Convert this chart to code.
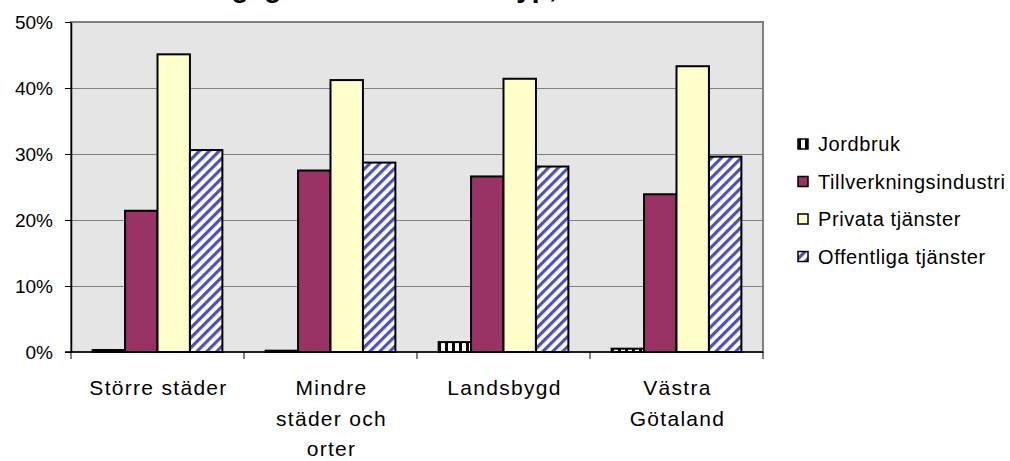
<!DOCTYPE html>
<html>
  <head>
    <meta charset="UTF-8" />
    <title>Sysselsättning efter näringsgren och kommuntyp</title>
    <script src="https://d3js.org/d3.v7.min.js"></script>
    <style>
      body {
        margin: 0;
        background: #fff;
        font-family: "Liberation Sans", Arial, sans-serif;
      }
      svg text {
        font-family: "Liberation Sans", Arial, sans-serif;
        fill: #000;
      }
    </style>
  </head>
  <body>
    <div id="chart"></div>
    <script>
      // data
      const categories = ["Större städer", "Mindre städer och orter", "Landsbygd", "Västra Götaland"];
      const categoryLines = [["Större städer"], ["Mindre", "städer och", "orter"], ["Landsbygd"], ["Västra", "Götaland"]];
      const series = ["Jordbruk", "Tillverkningsindustri", "Privata tjänster", "Offentliga tjänster"];
      const jordbruk = [0.3, 0.2, 1.5, 0.5];
      const tillverkning = [21.4, 27.5, 26.6, 23.9];
      const privata = [45.1, 41.2, 41.4, 43.3];
      const offentliga = [30.6, 28.7, 28.1, 29.6];
      const yTicks = [0, 10, 20, 30, 40, 50];
      const titleLines = ["Sysselsättning efter", "näringsgren och kommuntyp, 2005"];

      const values = [jordbruk, tillverkning, privata, offentliga];
      const fills = ["url(#pJord)", "#993366", "#ffffcc", "url(#pOff)"];

      const width = 1010;
      const height = 461;
      const margin = { left: 71, right: 247, top: 22, bottom: 109 };

      const svg = d3
        .select("#chart")
        .append("svg")
        .attr("width", width)
        .attr("height", height);

      const defs = svg.append("defs");
      const pj = defs
        .append("pattern")
        .attr("id", "pJord")
        .attr("patternUnits", "userSpaceOnUse")
        .attr("width", 7)
        .attr("height", 7);
      pj.append("rect").attr("width", 7).attr("height", 7).attr("fill", "#fff");
      pj.append("rect").attr("width", 3).attr("height", 7).attr("fill", "#000");

      const po = defs
        .append("pattern")
        .attr("id", "pOff")
        .attr("patternUnits", "userSpaceOnUse")
        .attr("width", 7)
        .attr("height", 7)
        .attr("patternTransform", "rotate(45)");
      po.append("rect").attr("width", 7).attr("height", 7).attr("fill", "#fff");
      po.append("rect").attr("width", 3.2).attr("height", 7).attr("fill", "#5050b8");

      const x0 = d3
        .scaleBand()
        .domain(categories)
        .range([margin.left, width - margin.right])
        .padding(0);
      const bw = x0.bandwidth();
      const x1 = d3
        .scaleBand()
        .domain(series)
        .range([bw * 0.125, bw * 0.875]);
      const y = d3
        .scaleLinear()
        .domain([0, 50])
        .range([height - margin.bottom, margin.top]);

      // plot area
      svg
        .append("rect")
        .attr("x", margin.left)
        .attr("y", margin.top)
        .attr("width", width - margin.left - margin.right)
        .attr("height", y(0) - margin.top)
        .attr("fill", "#e5e5e5")
        .attr("stroke", "#808080")
        .attr("stroke-width", 2);

      // gridlines
      svg
        .append("g")
        .selectAll("line")
        .data(yTicks.slice(1, -1))
        .enter()
        .append("line")
        .attr("x1", margin.left)
        .attr("x2", width - margin.right)
        .attr("y1", (d) => y(d) + 0.5)
        .attr("y2", (d) => y(d) + 0.5)
        .attr("stroke", "#808080")
        .attr("stroke-width", 1);

      // title (top line falls outside the picture, as in the original)
      svg
        .append("text")
        .attr("x", 395)
        .attr("y", -36)
        .attr("text-anchor", "middle")
        .style("font-size", "28px")
        .style("font-weight", "bold")
        .text(titleLines[0]);
      svg
        .append("text")
        .attr("x", 395)
        .attr("y", -3)
        .attr("text-anchor", "middle")
        .style("font-size", "28px")
        .style("font-weight", "bold")
        .text(titleLines[1]);

      // bars
      const groups = svg
        .append("g")
        .selectAll("g")
        .data(categories)
        .enter()
        .append("g")
        .attr("transform", (d) => `translate(${x0(d)},0)`);

      groups
        .selectAll("rect")
        .data((d, i) => series.map((s, j) => ({ s: s, v: values[j][i], j: j })))
        .enter()
        .append("rect")
        .attr("x", (d) => x1(d.s))
        .attr("width", x1.bandwidth())
        .attr("y", (d) => y(d.v))
        .attr("height", (d) => y(0) - y(d.v))
        .attr("fill", (d) => fills[d.j])
        .attr("stroke", "#000")
        .attr("stroke-width", 2);

      // y axis
      const yAxis = svg
        .append("g")
        .attr("transform", `translate(${margin.left},0)`)
        .call(
          d3
            .axisLeft(y)
            .tickValues(yTicks)
            .tickFormat((d) => d + "%")
            .tickSize(6)
            .tickSizeOuter(0)
            .tickPadding(12)
        );
      yAxis.select(".domain").attr("stroke", "#000").attr("stroke-width", 1.5);
      yAxis.selectAll(".tick line").attr("stroke", "#000");
      yAxis
        .selectAll("text")
        .style("font-size", "19px")
        .style("font-family", "'Liberation Sans', Arial, sans-serif");

      // x axis line and category separators
      const bounds = categories.map((c) => x0(c)).concat([x0.range()[1]]);
      svg
        .append("line")
        .attr("x1", margin.left - 6)
        .attr("x2", width - margin.right)
        .attr("y1", y(0))
        .attr("y2", y(0))
        .attr("stroke", "#000")
        .attr("stroke-width", 1.5);
      svg
        .append("g")
        .selectAll("line")
        .data(bounds)
        .enter()
        .append("line")
        .attr("x1", (d) => d)
        .attr("x2", (d) => d)
        .attr("y1", y(0))
        .attr("y2", y(0) + 7)
        .attr("stroke", "#000");

      // category labels
      const labels = svg
        .append("g")
        .selectAll("text")
        .data(categories)
        .enter()
        .append("text")
        .attr("text-anchor", "middle")
        .attr("x", (d) => x0(d) + bw / 2 + 1)
        .attr("y", 395)
        .style("font-size", "21px")
        .style("letter-spacing", "1.3px");
      labels
        .selectAll("tspan")
        .data((d, i) => categoryLines[i])
        .enter()
        .append("tspan")
        .attr("x", function () {
          return this.parentNode.getAttribute("x");
        })
        .attr("dy", (d, i) => (i === 0 ? 0 : 30.5))
        .text((d) => d);

      // legend
      const legend = svg
        .append("g")
        .selectAll("g")
        .data(series)
        .enter()
        .append("g")
        .attr("transform", (d, i) => `translate(798,${144 + i * 37.5})`);
      legend
        .append("rect")
        .attr("x", 0)
        .attr("y", -5)
        .attr("width", 10)
        .attr("height", 10)
        .attr("fill", (d, i) => fills[i])
        .attr("stroke", "#000")
        .attr("stroke-width", 1.5);
      legend
        .append("text")
        .attr("x", 20)
        .attr("y", 7)
        .style("font-size", "20px")
        .style("letter-spacing", "0.6px")
        .text((d) => d);
    </script>
  </body>
</html>
